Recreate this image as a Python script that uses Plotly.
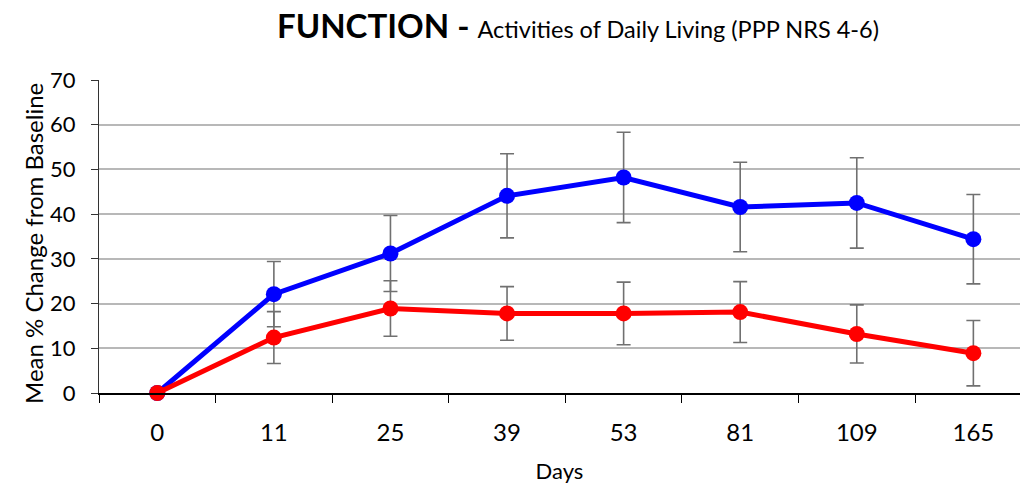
import plotly.graph_objects as go

days = ["0", "11", "25", "39", "53", "81", "109", "165"]
blue_mean = [0, 22.1, 31.2, 44.1, 48.2, 41.6, 42.5, 34.4]
blue_err = [0, 7.3, 8.5, 9.4, 10.1, 10.0, 10.1, 10.0]
red_mean = [0, 12.4, 18.9, 17.8, 17.8, 18.1, 13.2, 8.9]
red_err = [0, 5.8, 6.2, 6.0, 7.0, 6.8, 6.5, 7.3]
y_ticks = [0, 10, 20, 30, 40, 50, 60, 70]

FONT = "Lato"
ERR_COLOR = "#707070"

fig = go.Figure()
for means, errs, color in [(blue_mean, blue_err, "#0000FF"), (red_mean, red_err, "#FF0000")]:
    fig.add_trace(go.Scatter(
        x=days, y=means, mode="lines+markers",
        line=dict(color=color, width=5),
        marker=dict(color=color, size=16),
        error_y=dict(type="data", array=errs, visible=True, color=ERR_COLOR, thickness=1.6, width=7),
        cliponaxis=False, showlegend=False,
    ))

fig.add_annotation(
    text="Mean % Change from Baseline", textangle=-90,
    xref="paper", yref="paper", x=(34 - 99) / 921, y=(393 - 244) / 313,
    xanchor="center", yanchor="middle", showarrow=False,
    font=dict(size=24, family=FONT, color="black"),
)

fig.update_layout(
    width=1025, height=487,
    margin=dict(l=99, r=5, t=80, b=94, autoexpand=False),
    paper_bgcolor="white", plot_bgcolor="white",
    font=dict(family=FONT, color="black"),
    title=dict(
        text="<b>FUNCTION - </b><span style='font-size:23.5px'>Activities of Daily Living (PPP NRS 4-6)</span>",
        font=dict(size=33, family=FONT, color="black"),
        x=578 / 1025, xanchor="center", xref="container",
        y=1 - 26 / 487, yanchor="middle", yref="container",
        automargin=False,
    ),
    xaxis=dict(
        type="category", categoryorder="array", categoryarray=days,
        range=[-0.5, 7.4], automargin=False,
        showgrid=False, showline=True, linecolor="black", linewidth=1.5,
        ticks="outside", tickson="boundaries", ticklen=8, tickwidth=1.3, tickcolor="black",
        ticklabelstandoff=17,
        tickfont=dict(size=24, family=FONT),
        title=dict(text="Days", font=dict(size=22, family=FONT), standoff=19),
        zeroline=False,
    ),
    yaxis=dict(
        range=[0, 70], tickvals=y_ticks, automargin=False,
        showgrid=True, gridcolor="#b8b8b8", gridwidth=2,
        showline=True, linecolor="#333333", linewidth=1.3,
        ticks="outside", ticklen=7, tickwidth=1.3, tickcolor="#333333",
        ticklabelstandoff=11,
        tickfont=dict(size=22, family=FONT),
        zeroline=False,
    ),
)

fig.write_html("out.html", config={"displayModeBar": False},
               post_script="document.body.style.margin='0';document.body.style.padding='0';")
